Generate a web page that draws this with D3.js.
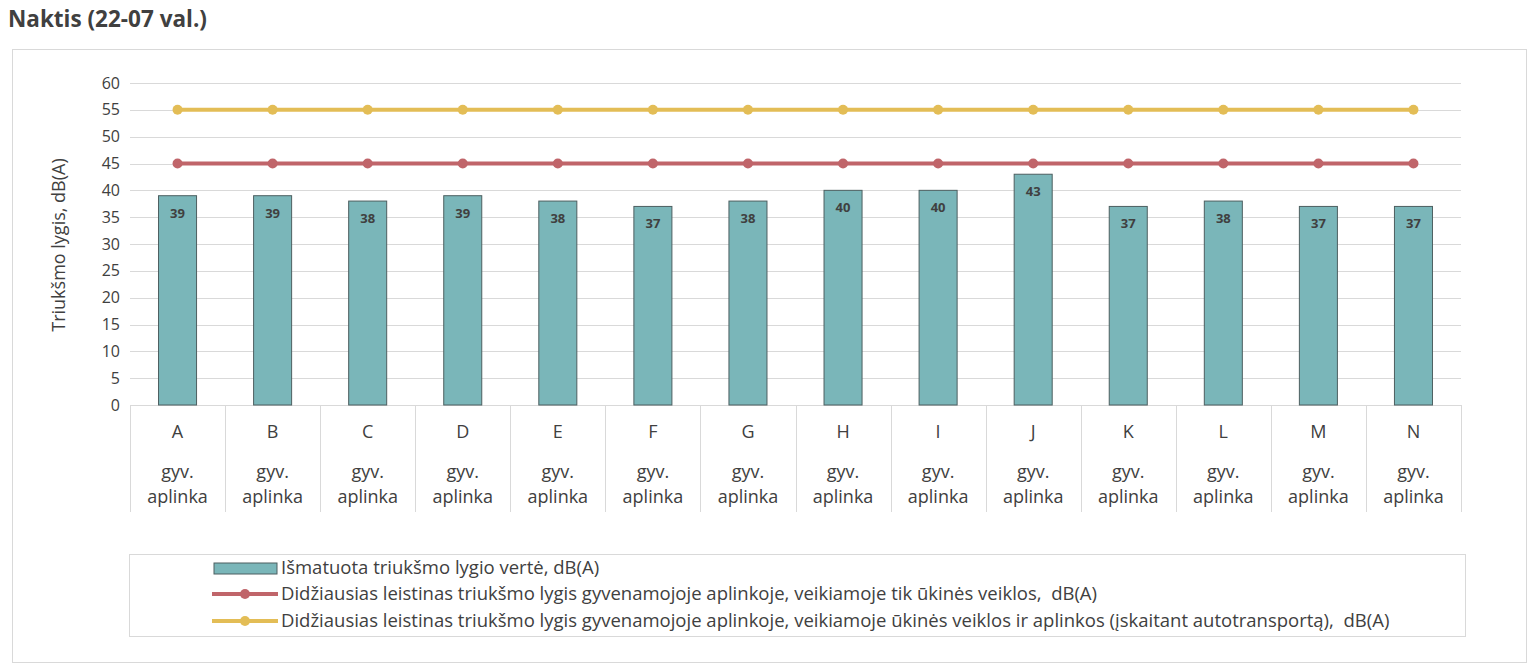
<!DOCTYPE html>
<html>
<head>
<meta charset="utf-8">
<script src="https://cdn.jsdelivr.net/npm/d3@7"></script>
<style>
  body { margin: 0; background: #fff; font-family: "Open Sans", "DejaVu Sans", sans-serif; }
  text { white-space: pre; }
</style>
</head>
<body>
<div id="chart"></div>
<script>
const categories = ['A', 'B', 'C', 'D', 'E', 'F', 'G', 'H', 'I', 'J', 'K', 'L', 'M', 'N'];
const measured = [39, 39, 38, 39, 38, 37, 38, 40, 40, 43, 37, 38, 37, 37];
const limitEconomic = [45, 45, 45, 45, 45, 45, 45, 45, 45, 45, 45, 45, 45, 45];
const limitTotal = [55, 55, 55, 55, 55, 55, 55, 55, 55, 55, 55, 55, 55, 55];
const yTicks = [0, 5, 10, 15, 20, 25, 30, 35, 40, 45, 50, 55, 60];
const subLabel = ['gyv.', 'aplinka'];
const legendNames = [
    'Išmatuota triukšmo lygio vertė, dB(A)',
    'Didžiausias leistinas triukšmo lygis gyvenamojoje aplinkoje, veikiamoje tik ūkinės veiklos,  dB(A)',
    'Didžiausias leistinas triukšmo lygis gyvenamojoje aplinkoje, veikiamoje ūkinės veiklos ir aplinkos (įskaitant autotransportą),  dB(A)'
];

const width = 1533, height = 670;
const barColor = '#7ab6b9', barStroke = '#4d5f60';
const redColor = '#c0656a', yellowColor = '#e3bd56';
const textColor = '#404040';

const svg = d3.select('#chart').append('svg')
    .attr('width', width)
    .attr('height', height);

// title
svg.append('text')
    .attr('x', 8).attr('y', 27)
    .attr('font-size', 22.5).attr('font-weight', 'bold')
    .attr('fill', textColor)
    .text('Naktis (22-07 val.)');

// chart border
svg.append('rect')
    .attr('x', 12.5).attr('y', 49.5)
    .attr('width', 1514).attr('height', 613)
    .attr('fill', 'none').attr('stroke', '#d9d9d9');

const x = d3.scaleBand()
    .domain(categories)
    .range([130, 1461])
    .paddingInner(0.6).paddingOuter(0.3);

const xBand = d3.scaleBand().domain(categories).range([130, 1461]);

const y = d3.scaleLinear().domain([0, 60]).range([405, 83]);

// gridlines
svg.append('g')
    .selectAll('line').data(yTicks.slice(1))
    .enter().append('line')
    .attr('x1', 130).attr('x2', 1461)
    .attr('y1', d => Math.round(y(d)) + 0.5).attr('y2', d => Math.round(y(d)) + 0.5)
    .attr('stroke', '#d9d9d9');

// y axis labels
const yAxis = svg.append('g')
    .attr('transform', 'translate(120,0)')
    .call(d3.axisLeft(y).tickValues(yTicks).tickSize(0).tickPadding(0));
yAxis.select('.domain').remove();
yAxis.selectAll('text')
    .attr('font-size', 16).attr('fill', textColor)
    .attr('font-family', '"Open Sans", sans-serif');

// y title
svg.append('text')
    .attr('transform', 'translate(65,245) rotate(-90)')
    .attr('text-anchor', 'middle')
    .attr('font-size', 18).attr('fill', textColor)
    .text('Triukšmo lygis, dB(A)');

// category axis: baseline + separators
svg.append('line')
    .attr('x1', 130).attr('x2', 1461)
    .attr('y1', 405.5).attr('y2', 405.5)
    .attr('stroke', '#d9d9d9');

const seps = categories.map(c => xBand(c)).concat([xBand.range()[1]]);
svg.append('g').selectAll('line').data(seps)
    .enter().append('line')
    .attr('x1', d => Math.round(d) + 0.5).attr('x2', d => Math.round(d) + 0.5)
    .attr('y1', 405).attr('y2', 512)
    .attr('stroke', '#d9d9d9');

const catG = svg.append('g').selectAll('g').data(categories)
    .enter().append('g')
    .attr('transform', d => `translate(${xBand(d) + xBand.bandwidth() / 2},0)`);
catG.append('text')
    .attr('y', 438).attr('text-anchor', 'middle')
    .attr('font-size', 18).attr('fill', textColor)
    .text(d => d);
catG.append('text')
    .attr('y', 478).attr('text-anchor', 'middle')
    .attr('font-size', 18).attr('fill', textColor)
    .text(subLabel[0]);
catG.append('text')
    .attr('y', 503).attr('text-anchor', 'middle')
    .attr('font-size', 18).attr('fill', textColor)
    .text(subLabel[1]);

// bars
svg.append('g').selectAll('rect').data(measured)
    .enter().append('rect')
    .attr('x', (d, i) => x(categories[i]))
    .attr('y', d => y(d))
    .attr('width', x.bandwidth())
    .attr('height', d => y(0) - y(d))
    .attr('fill', barColor)
    .attr('stroke', barStroke).attr('stroke-width', 1);

// data labels
svg.append('g').selectAll('text').data(measured)
    .enter().append('text')
    .attr('x', (d, i) => x(categories[i]) + x.bandwidth() / 2)
    .attr('y', d => y(d) + 22)
    .attr('text-anchor', 'middle')
    .attr('font-size', 13).attr('font-weight', 'bold')
    .attr('fill', textColor)
    .text(d => d);

// limit lines
const cx = c => xBand(c) + xBand.bandwidth() / 2;
function drawLine(values, color) {
    const line = d3.line()
        .x((d, i) => cx(categories[i]))
        .y(d => y(d));
    svg.append('path')
        .datum(values)
        .attr('d', line)
        .attr('fill', 'none')
        .attr('stroke', color).attr('stroke-width', 4);
    svg.append('g').selectAll('circle').data(values)
        .enter().append('circle')
        .attr('cx', (d, i) => cx(categories[i]))
        .attr('cy', d => y(d))
        .attr('r', 5)
        .attr('fill', color);
}
drawLine(limitEconomic, redColor);
drawLine(limitTotal, yellowColor);

// legend
svg.append('rect')
    .attr('x', 129.5).attr('y', 554.5)
    .attr('width', 1336).attr('height', 82)
    .attr('fill', 'none').attr('stroke', '#d9d9d9');

const legendY = [568, 594, 621];
const lg = svg.append('g');
lg.append('rect')
    .attr('x', 214).attr('y', legendY[0] - 5)
    .attr('width', 63).attr('height', 11)
    .attr('fill', barColor).attr('stroke', barStroke);
[redColor, yellowColor].forEach((c, i) => {
    lg.append('line')
        .attr('x1', 212).attr('x2', 278)
        .attr('y1', legendY[i + 1]).attr('y2', legendY[i + 1])
        .attr('stroke', c).attr('stroke-width', 4);
    lg.append('circle')
        .attr('cx', 245).attr('cy', legendY[i + 1]).attr('r', 5)
        .attr('fill', c);
});
lg.selectAll('text').data(legendNames)
    .enter().append('text')
    .attr('x', 281)
    .attr('y', (d, i) => legendY[i] + 6)
    .attr('font-size', 18.5).attr('fill', textColor)
    .text(d => d);
</script>
</body>
</html>
